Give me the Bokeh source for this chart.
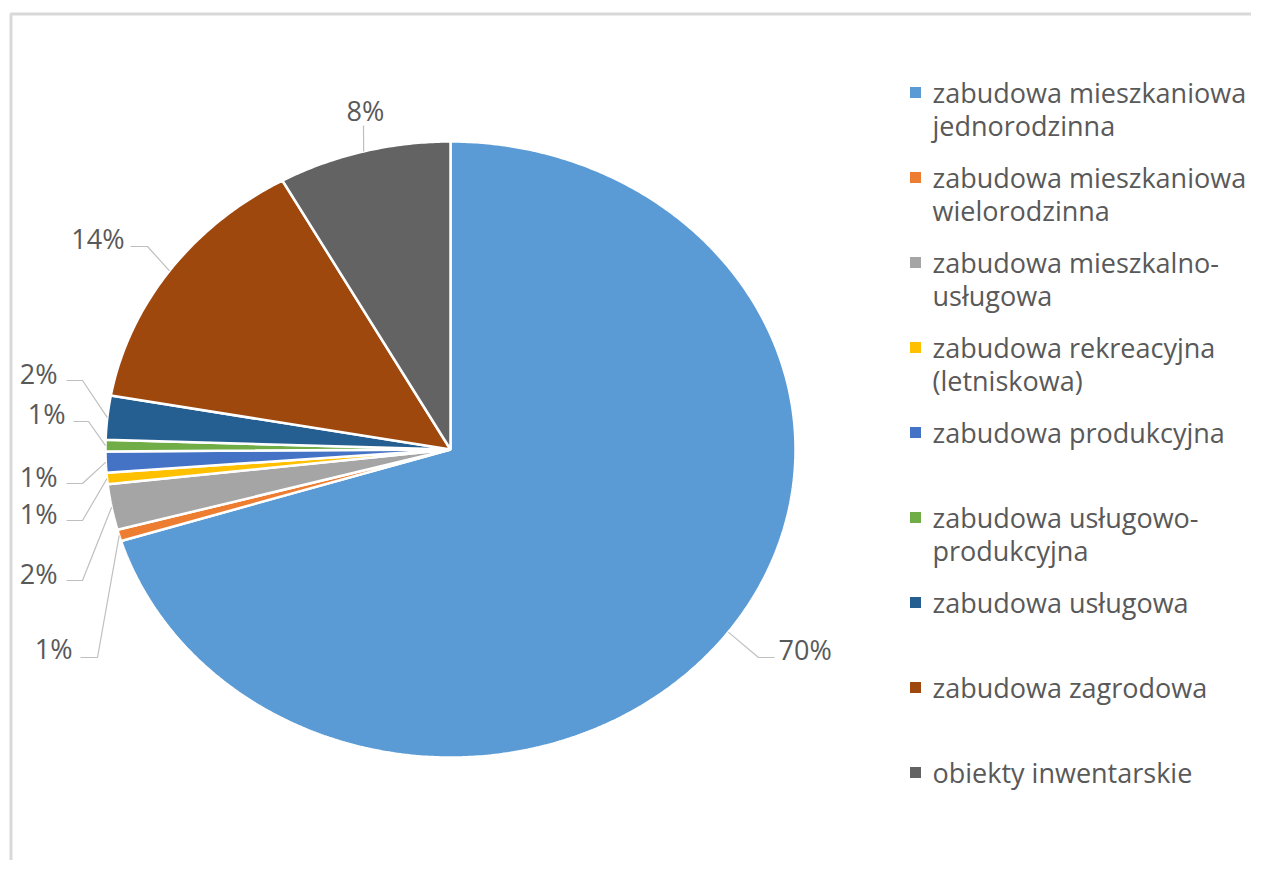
import numpy as np
from bokeh.plotting import figure
from bokeh.models import Range1d
from bokeh.core.properties import value
from bokeh.embed import file_html
from bokeh.resources import INLINE

# ---- data ----
categories = [
    "zabudowa mieszkaniowa\njednorodzinna",
    "zabudowa mieszkaniowa\nwielorodzinna",
    "zabudowa mieszkalno-\nusługowa",
    "zabudowa rekreacyjna\n(letniskowa)",
    "zabudowa produkcyjna",
    "zabudowa usługowo-\nprodukcyjna",
    "zabudowa usługowa",
    "zabudowa zagrodowa",
    "obiekty inwentarskie",
]
shares = [70.2, 0.6, 2.4, 0.6, 1.1, 0.6, 2.3, 14.1, 8.1]
pct_labels = ["70%", "1%", "2%", "1%", "1%", "1%", "2%", "14%", "8%"]
colors = ["#5B9BD5", "#ED7D31", "#A5A5A5", "#FFC000", "#4472C4",
          "#70AD47", "#255E91", "#9E480E", "#636363"]

# ---- layout (screen-pixel coordinates) ----
CX, CY, RX, RY = 450.0, 449.0, 345.0, 308.0
FONT = value("Open Sans")
TXT = "#595959"
label_text = [(778, 649, "left"), (72, 648, "right"), (57, 573, "right"),
              (57, 513, "right"), (57, 476, "right"), (65, 413, "right"),
              (57, 373, "right"), (124, 238, "right"), (365, 110, "center")]
leader_elbow = [(758, 657), (97, 657), (82, 580), (82, 520), (82, 483),
                (88, 421), (82, 380), (147, 246), (363, 125)]
leader_end = [(774, 657), (80, 657), (66, 580), (66, 520), (66, 483),
              (73, 421), (66, 380), (130, 246), (363, 125)]

W, H = 1251, 860
p = figure(width=W, height=H, output_backend="svg", toolbar_location=None,
           x_range=Range1d(0, W), y_range=Range1d(H, 0),
           min_border=0, outline_line_color=None)
p.axis.visible = False
p.grid.visible = False
p.background_fill_color = "white"
p.border_fill_color = "white"

# frame (top and left edges visible; right/bottom cut off)
p.line([10, W + 20], [13.5, 13.5], line_color="#d9d9d9", line_width=3)
p.line([10.5, 10.5], [13, H + 20], line_color="#d9d9d9", line_width=3)

# ---- pie (elliptical, clockwise from 12 o'clock) ----
vals = np.array(shares, dtype=float)
ends = np.cumsum(vals) / vals.sum() * 2 * np.pi
starts = np.concatenate([[0.0], ends[:-1]])
xs, ys = [], []
for a0, a1 in zip(starts, ends):
    t = np.linspace(a0, a1, max(4, int((a1 - a0) * 120)))
    xs.append(list(np.concatenate([[CX], CX + RX * np.sin(t)])))
    ys.append(list(np.concatenate([[CY], CY - RY * np.cos(t)])))
p.patches(xs, ys, fill_color=colors, line_color="white", line_width=2.5)

# ---- leader lines + data labels ----
mids = (starts + ends) / 2
for i, m in enumerate(mids):
    sx = CX + RX * np.sin(m)
    sy = CY - RY * np.cos(m)
    ex, ey = leader_elbow[i]
    hx, hy = leader_end[i]
    p.line([sx, ex, hx], [sy, ey, hy], line_color="#bfbfbf", line_width=1.2)
for i, lab in enumerate(pct_labels):
    tx, ty, al = label_text[i]
    p.text(x=[tx], y=[ty], text=[lab], text_font=FONT, text_font_size="27px",
           text_color=TXT, text_align=al, text_baseline="middle")

# ---- legend ----
lx, ly0, step, lh = 915, 92, 85, 33
p.scatter(x=[lx] * len(categories), y=[ly0 + step * i for i in range(len(categories))],
          marker="square", size=11, fill_color=colors, line_color=None)
tx_, ty_, tt_ = [], [], []
for i, c in enumerate(categories):
    for j, ln in enumerate(c.split("\n")):
        tx_.append(932)
        ty_.append(ly0 + step * i + lh * j)
        tt_.append(ln)
p.text(x=tx_, y=ty_, text=tt_, text_font=FONT, text_font_size="27px",
       text_color=TXT, text_align="left", text_baseline="middle")

open("out.html", "w").write(file_html(p, INLINE))
